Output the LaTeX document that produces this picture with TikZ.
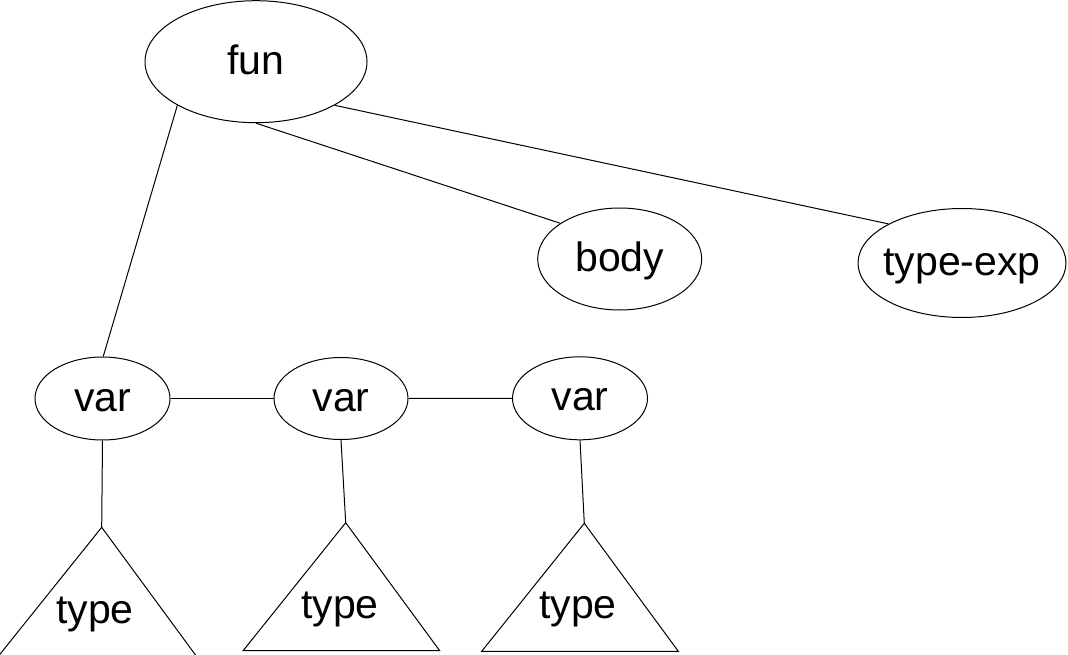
\documentclass[tikz,border=0pt]{standalone}
\usepackage{fontspec}
\setmainfont{Liberation Sans}
\usetikzlibrary{shapes.geometric,calc}
\newcommand{\zlbl}[1]{\makebox[0pt]{#1}}
\tikzset{
  treenode/.style={draw=black, line width=1pt, ellipse, inner sep=0pt, text height=25pt, text depth=0pt, font=\fontsize{41}{49}\selectfont},
  edge/.style={draw=black, line width=1pt},
  tri/.style={draw=black, line width=1pt, line join=miter},
  trilabel/.style={anchor=base, inner sep=0pt, font=\fontsize{41}{49}\selectfont}
}
\begin{document}
\begin{tikzpicture}[x=1pt,y=-1pt]
\useasboundingbox[fill=white] (0,0) rectangle (1068,655);
% ellipse nodes
\node[treenode, minimum width=222pt, minimum height=122pt] (fun) at (256,61.7) {\zlbl{fun}};
\node[treenode, minimum width=164pt, minimum height=102pt] (body) at (619.7,259) {\zlbl{body}};
\node[treenode, minimum width=208pt, minimum height=109pt] (texp) at (962,263) {\zlbl{type-exp}};
\node[treenode, minimum width=135pt, minimum height=83pt] (var1) at (102.5,398.5) {\zlbl{var}};
\node[treenode, minimum width=134pt, minimum height=82pt] (var2) at (341,398.5) {\zlbl{var}};
\node[treenode, minimum width=135pt, minimum height=83pt] (var3) at (580,398.3) {\zlbl{var}};
% triangle apexes
\coordinate (t1) at (101.7,527.3);
\coordinate (t2) at (345.7,522.7);
\coordinate (t3) at (584.3,523.3);
% triangles
\draw[tri] ($(t1)+(-106.6,133)$) -- (t1) -- ($(t1)+(97.7,133)$);
\draw[tri] (t2) -- ++(-102.6,128) -- ++(196.6,0) -- cycle;
\draw[tri] (t3) -- ++(-102.6,128) -- ++(196.6,0) -- cycle;
% triangle labels
\node[trilabel] (ty1) at (95,623) {\zlbl{type}};
\node[trilabel] (ty2) at (340,618.3) {\zlbl{type}};
\node[trilabel] (ty3) at (578,618.3) {\zlbl{type}};
% connectors
\draw[edge] (fun.209) -- (var1.89);
\draw[edge] (fun.south) -- (body.149);
\draw[edge] (fun.331) -- (texp.152);
\draw[edge] (var1.east) -- (var2.west);
\draw[edge] (var2.east) -- (var3.west);
\draw[edge] (var1.south) -- (t1);
\draw[edge] (var2.south) -- (t2);
\draw[edge] (var3.south) -- (t3);
\end{tikzpicture}
\end{document}
